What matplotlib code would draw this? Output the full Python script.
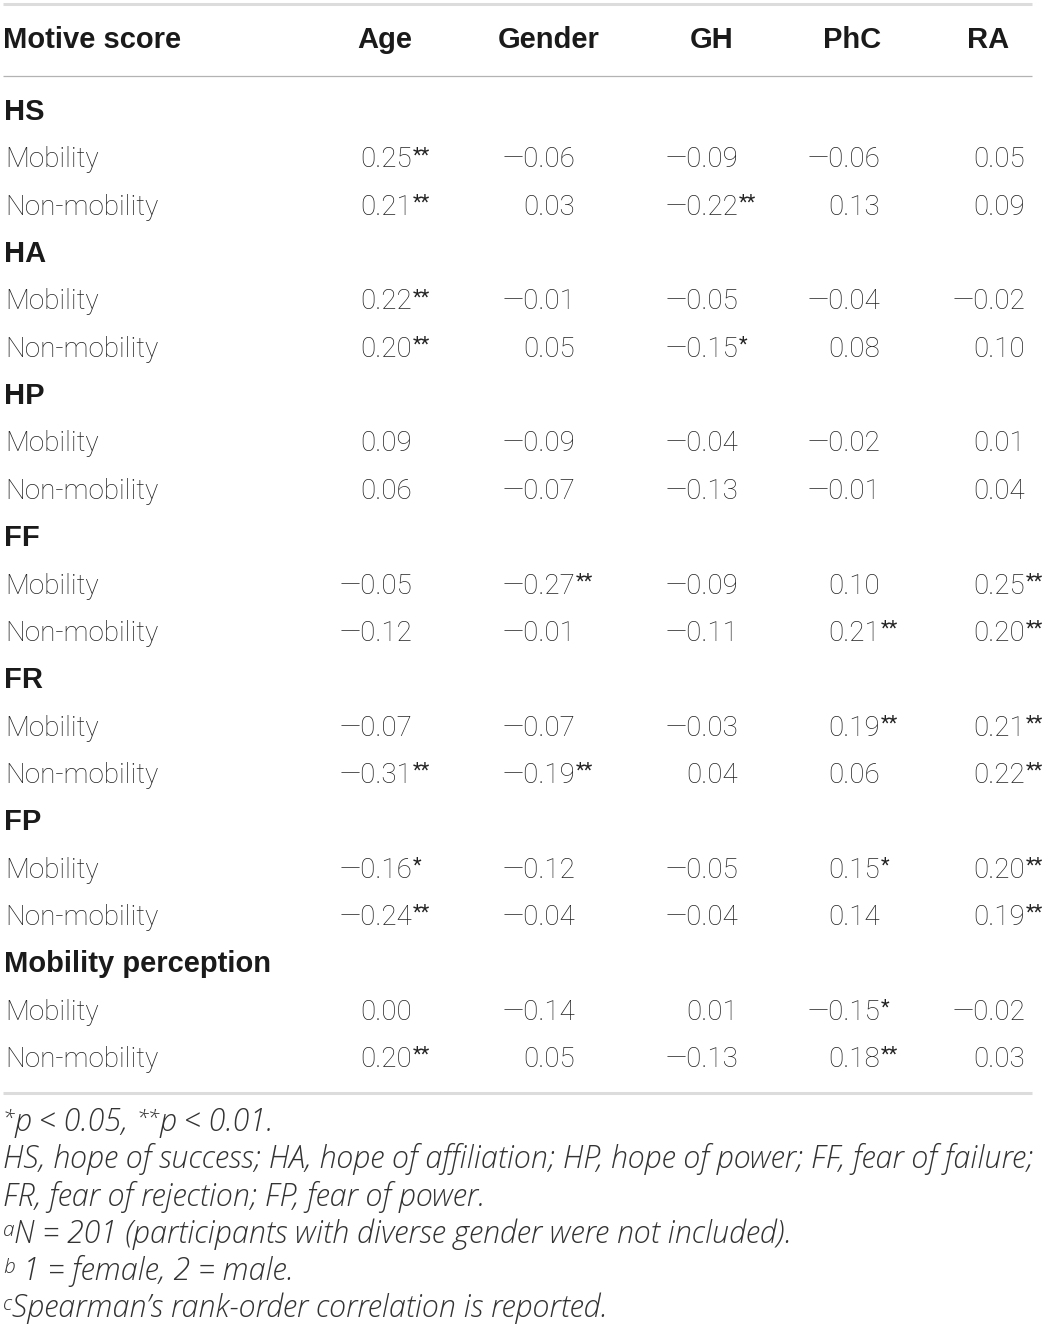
import matplotlib
matplotlib.use("Agg")
import matplotlib.pyplot as plt

# Table content
col_headers = ["Age", "Gender", "GH", "PhC", "RA"]
groups = ["HS", "HA", "HP", "FF", "FR", "FP", "Mobility perception"]
sub_rows = ["Mobility", "Non-mobility"]

# correlations, two rows (Mobility, Non-mobility) per group
age = [0.25, 0.21, 0.22, 0.20, 0.09, 0.06, -0.05, -0.12, -0.07, -0.31, -0.16, -0.24, 0.00, 0.20]
gender = [-0.06, 0.03, -0.01, 0.05, -0.09, -0.07, -0.27, -0.01, -0.07, -0.19, -0.12, -0.04, -0.14, 0.05]
gh = [-0.09, -0.22, -0.05, -0.15, -0.04, -0.13, -0.09, -0.11, -0.03, 0.04, -0.05, -0.04, 0.01, -0.13]
phc = [-0.06, 0.13, -0.04, 0.08, -0.02, -0.01, 0.10, 0.21, 0.19, 0.06, 0.15, 0.14, -0.15, 0.18]
ra = [0.05, 0.09, -0.02, 0.10, 0.01, 0.04, 0.25, 0.20, 0.21, 0.22, 0.20, 0.19, -0.02, 0.03]

# significance stars (0, 1 = *, 2 = **)
age_sig = [2, 2, 2, 2, 0, 0, 0, 0, 0, 2, 1, 2, 0, 2]
gender_sig = [0, 0, 0, 0, 0, 0, 2, 0, 0, 2, 0, 0, 0, 0]
gh_sig = [0, 2, 0, 1, 0, 0, 0, 0, 0, 0, 0, 0, 0, 0]
phc_sig = [0, 0, 0, 0, 0, 0, 0, 2, 2, 0, 1, 0, 1, 2]
ra_sig = [0, 0, 0, 0, 0, 0, 2, 2, 2, 2, 2, 2, 0, 0]

columns = [age, gender, gh, phc, ra]
column_sig = [age_sig, gender_sig, gh_sig, phc_sig, ra_sig]

W, H = 1051, 1326
fig = plt.figure(figsize=(W / 100, H / 100), dpi=100)
ax = fig.add_axes([0, 0, 1, 1])
ax.set_xlim(0, W)
ax.set_ylim(H, 0)
ax.axis("off")

TXT = "#222222"
BODY = dict(family=["Roboto", "DejaVu Sans"], weight="light", fontsize=20, color=TXT)
BOLD = dict(family=["Liberation Sans", "DejaVu Sans"], weight="bold", fontsize=21, color="#1a1a1a")
STAR = dict(family=["Roboto", "DejaVu Sans"], weight="normal", fontsize=14.5, color=TXT)
NOTE = dict(family=["Open Sans", "Roboto", "DejaVu Sans"], weight="light", style="italic",
            fontsize=22, color="#333333")
NOTE_SUP = dict(NOTE, fontsize=15)

# header
header_x = [357, 498, 690, 823, 967]
value_right = [412, 575, 738, 880, 1025]
header_base = 48
ax.text(3, header_base, "Motive score", ha="left", va="baseline", **BOLD)
for x, h in zip(header_x, col_headers):
    ax.text(x, header_base, h, ha="left", va="baseline", **BOLD)

# rules
ax.plot([3, 1032], [4, 4], color="#dcdcdc", lw=2.2, solid_capstyle="butt")
ax.plot([3, 1032], [75.5, 75.5], color="#b3b3b3", lw=0.9, solid_capstyle="butt")
ax.plot([3, 1032], [1093, 1093], color="#dcdcdc", lw=2.2, solid_capstyle="butt")

row_h = 47.35
first_base = 120


def fmt(v):
    s = f"{abs(v):.2f}"
    return ("\u2014" + s) if v < 0 else s


line = 0
for g, name in enumerate(groups):
    y = first_base + line * row_h
    ax.text(4, y, name, ha="left", va="baseline", **BOLD)
    line += 1
    for k, sub in enumerate(sub_rows):
        i = g * 2 + k
        y = first_base + line * row_h
        ax.text(5, y, sub, ha="left", va="baseline", **BODY)
        for c in range(len(columns)):
            xr = value_right[c]
            ax.text(xr, y, fmt(columns[c][i]), ha="right", va="baseline", **BODY)
            n = column_sig[c][i]
            if n:
                ax.text(xr + 1, y - 6, "*" * n, ha="left", va="baseline", **STAR)
        line += 1

# footnotes, built piece by piece for the superscripts
renderer = fig.canvas.get_renderer()


def rich_line(x, y, pieces):
    for txt, props, dy in pieces:
        t = ax.text(x, y - dy, txt, ha="left", va="baseline", **props)
        x += t.get_window_extent(renderer).width


note_base = 1131
note_h = 37.3
rich_line(3, note_base, [("*", NOTE_SUP, 7), ("p < 0.05, ", NOTE, 0),
                         ("**", NOTE_SUP, 7), ("p < 0.01.", NOTE, 0)])
rich_line(3, note_base + note_h, [("HS, hope of success; HA, hope of affiliation; HP, hope of power; FF, fear of failure;", NOTE, 0)])
rich_line(3, note_base + 2 * note_h, [("FR, fear of rejection; FP, fear of power.", NOTE, 0)])
rich_line(3, note_base + 3 * note_h, [("a", NOTE_SUP, 7), ("N = 201 (participants with diverse gender were not included).", NOTE, 0)])
rich_line(3, note_base + 4 * note_h, [("b", NOTE_SUP, 7), (" 1 = female, 2 = male.", NOTE, 0)])
rich_line(3, note_base + 5 * note_h, [("c", NOTE_SUP, 7), ("Spearman\u2019s rank-order correlation is reported.", NOTE, 0)])

fig.savefig("out.png", dpi=100)
